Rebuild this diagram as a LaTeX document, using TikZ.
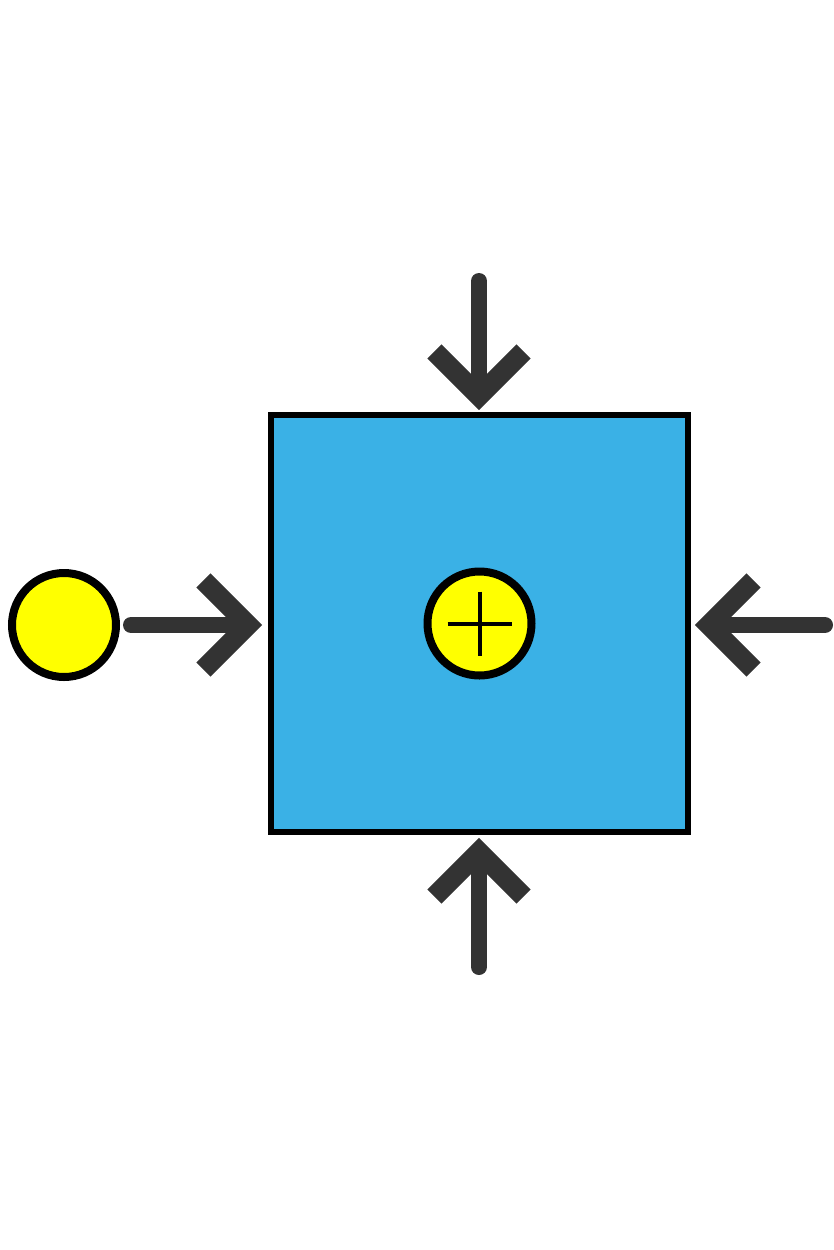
\documentclass[tikz,border=0pt]{standalone}
\usetikzlibrary{calc}
\definecolor{boxblue}{RGB}{58,177,230}
\definecolor{arrowgray}{RGB}{51,51,51}
\definecolor{dotyellow}{RGB}{255,255,0}
\begin{document}
\begin{tikzpicture}[
      x=1pt, y=-1pt,
      box/.style={draw=black, line width=6pt, fill=boxblue,
                  minimum size=417pt, inner sep=0pt},
      dot/.style={circle, draw=black, line width=8pt, fill=dotyellow,
                  minimum size=104pt, inner sep=0pt},
      shaft/.style={draw=arrowgray, line width=16pt, line cap=round},
      barb/.style={draw=arrowgray, line width=20pt, line cap=butt, line join=miter}
    ]
    \useasboundingbox (0,0) rectangle (833,1250);

    % Bloco central
    \node[box] (blk) at (479.5,623.5) {};

    % Somador
    \node[dot] (sum) at (blk.center) {};
    \draw[line width=4pt] ($(sum.center)+(-32,0)$) -- ($(sum.center)+(32,0)$);
    \draw[line width=4pt] ($(sum.center)+(0,-32)$) -- ($(sum.center)+(0,32)$);

    % Fonte
    \node[dot] (src) at (64,625) {};

    % Entradas: cauda / ponta
    \coordinate (tN) at (479,281);  \coordinate (hN) at (479,396);
    \coordinate (tW) at (131,625);  \coordinate (hW) at (248,625);
    \coordinate (tE) at (825,625);  \coordinate (hE) at (709,625);
    \coordinate (tS) at (479,967);  \coordinate (hS) at (479,852);

    \foreach \d in {N,W,E,S}{
      \draw[shaft] (t\d) -- (h\d);
      \draw[barb] ($(h\d)!63pt!45:(t\d)$) -- (h\d) -- ($(h\d)!63pt!-45:(t\d)$);
    }
  \end{tikzpicture}
\end{document}
